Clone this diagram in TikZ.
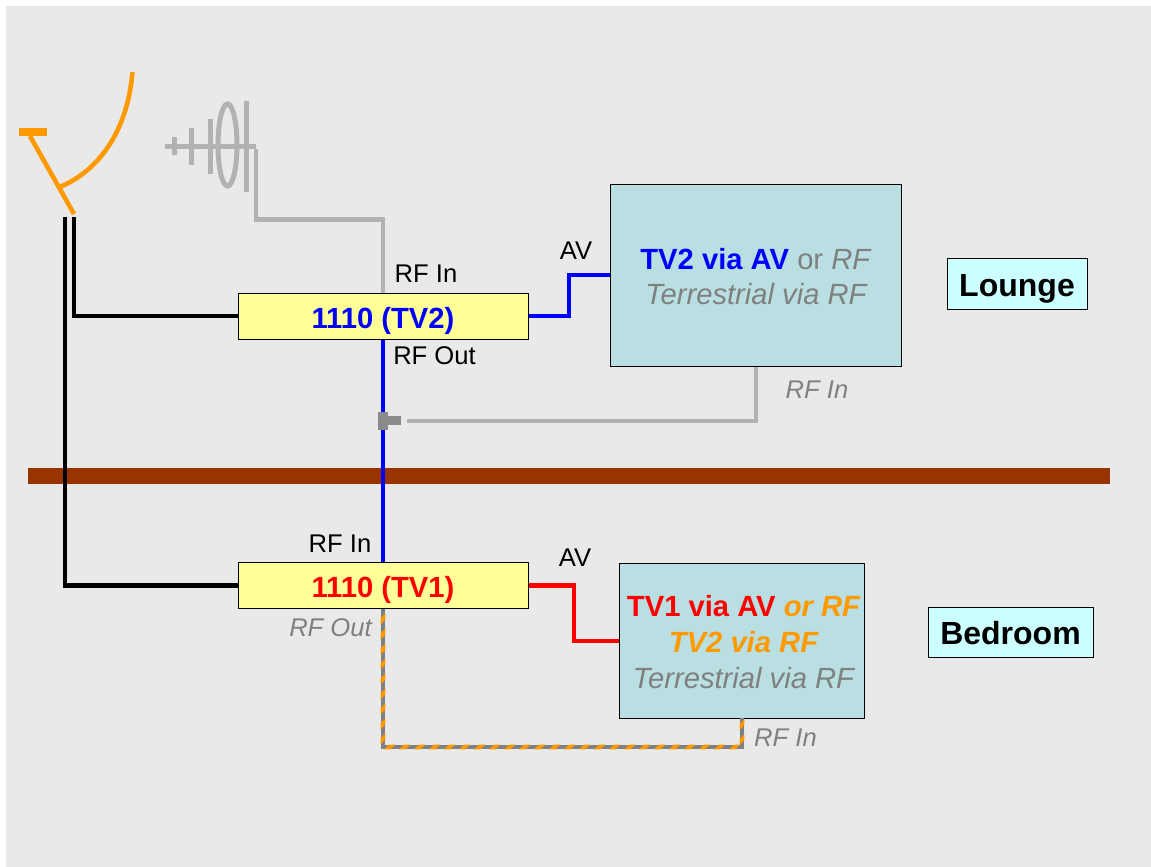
\documentclass[tikz,border=0pt]{standalone}
\usepackage{fontspec}
\setmainfont{Liberation Sans}
\usetikzlibrary{patterns.meta}
\definecolor{panelgrey}{HTML}{E9E9E9}
\definecolor{coaxgrey}{HTML}{B2B2B2}
\definecolor{textgrey}{HTML}{808080}
\definecolor{dishorange}{HTML}{FF9900}
\definecolor{floorbrown}{HTML}{993300}
\definecolor{setyellow}{HTML}{FFFF99}
\definecolor{screenblue}{HTML}{B9DFE2}
\definecolor{roomcyan}{HTML}{CCFFFF}
\tikzset{
  setbox/.style={draw=black,line width=.5pt,fill=setyellow,minimum width=145pt,minimum height=23pt,inner sep=0pt,text height=12pt,text depth=0pt,font=\fontsize{14.6}{16}\selectfont\bfseries},
  screen/.style={draw=black,line width=.5pt,fill=screenblue,inner sep=0pt,align=center,font=\fontsize{14.6}{18}\selectfont},
  roombox/.style={draw=black,line width=.5pt,fill=roomcyan,inner sep=0pt,text height=12.5pt,text depth=0pt,font=\fontsize{16}{18}\selectfont\bfseries},
  lab/.style={inner sep=0pt,font=\fontsize{12.8}{14}\selectfont},
  greylab/.style={lab,text=textgrey,font=\fontsize{12.8}{14}\selectfont\itshape},
  wire/.style={line width=2.3pt},
  coax/.style={wire,coaxgrey},
  dish/.style={line width=2.3pt,dishorange},
  aerial/.style={line width=2.5pt,coaxgrey}
}
\begin{document}
\begin{tikzpicture}[x=.5pt,y=-.5pt]
\useasboundingbox (0,0) rectangle (1151,867);
\fill[panelgrey] (6,6) rectangle (1151,867);
% floor
\fill[floorbrown] (28,468) rectangle (1110,484);
% dish
\draw[dish,line width=4pt] (19,132) -- (47,132);
\draw[dish] (30,136) -- (74,214);
\draw[dish] (132.5,72) .. controls (128,125) and (104,168) .. (60,187);
% aerial
\draw[aerial] (165,146) -- (256,146);
\foreach \xpos/\ylen in {174/9,191/18.5,210.5/27.5,246.5/45.5}
  \draw[aerial] (\xpos,146-\ylen) -- (\xpos,146+\ylen);
\draw[aerial] (227.5,145) ellipse (9.5 and 41);
% boxes
\node[setbox] (settwo) at (383,316) {\textcolor{blue}{1110 (TV2)}};
\node[setbox] (setone) at (383,585.5) {\textcolor{red}{1110 (TV1)}};
\node[screen,minimum width=145.5pt,minimum height=91pt] (screentwo) at (755.5,275) {};
\node[screen,minimum width=122.5pt,minimum height=77.5pt] (screenone) at (741.5,640.5) {};
\node[roombox,minimum width=70pt,minimum height=25.5pt] (lounge) at (1017,283.5) {Lounge};
\node[roombox,minimum width=82.5pt,minimum height=25pt,text height=12pt] (bedroom) at (1010.5,632) {Bedroom};
% points on the way
\coordinate (dishone) at (65,217);
\coordinate (dishtwo) at (74,217);
\coordinate (aerialend) at (256,149);
\coordinate (tee) at (383,421);
\coordinate (teeout) at (407,421);
\coordinate (avtwo) at (610,275);
\coordinate (avone) at (619,641);
\coordinate (rfinone) at (742,718);
% wires
\draw[wire,black] (dishtwo) |- (settwo.west);
\draw[wire,black] (dishone) |- (setone.west);
\draw[coax] (aerialend) -- (256,219.5) -- (383,219.5) -- (settwo.north);
\draw[wire,blue] (settwo.south) -- (setone.north);
\draw[wire,blue] (settwo.east) -- (569,316) -- (569,275) -- (avtwo);
\draw[wire,red] (setone.east) -- (574,585.5) -- (574,641) -- (avone);
\draw[coax] (teeout) -- (756,421) -- (screentwo.south -| 756,0);
% tee piece
\fill[textgrey!80!coaxgrey] (378,412) rectangle (388,430);
\fill[textgrey!80!coaxgrey] (388,416) rectangle (401,425);
% striped lead
\draw[wire,textgrey] (setone.south) -- (383,747) -- (742,747) -- (rfinone);
\path[pattern={Lines[angle=45,distance=5.3pt,line width=2.2pt]},pattern color=dishorange]
  (380.7,609) rectangle (385.3,749.3) (385.3,744.7) rectangle (739.7,749.3) (739.7,719) rectangle (744.3,749.3);
% screen texts
\node[screen,draw=none,fill=none] at (756,276.5) {\textcolor{blue}{\bfseries TV2 via AV} \textcolor{textgrey}{or \textit{RF}}\\[-.2pt]\textcolor{textgrey}{\itshape Terrestrial via RF}};
\node[screen,draw=none,fill=none] at (743.5,642) {\textcolor{red}{\bfseries TV1 via AV} \textcolor{dishorange}{\bfseries\itshape or RF}\\\textcolor{dishorange}{\bfseries\itshape TV2 via RF}\\\textcolor{textgrey}{\itshape Terrestrial via RF}};
% labels
\node[lab] (rfintwo) at (426,274) {RF In};
\node[lab] (rfouttwo) at (434.5,356) {RF Out};
\node[lab] (avlabtwo) at (576,251) {AV};
\node[lab] (rfinlow) at (340,544) {RF In};
\node[lab] (avlabone) at (575,558) {AV};
\node[greylab] (rfoutone) at (330.5,628) {RF Out};
\node[greylab] (rfscreentwo) at (817,390) {RF In};
\node[greylab] (rfscreenone) at (785.5,738) {RF In};
\end{tikzpicture}
\end{document}
